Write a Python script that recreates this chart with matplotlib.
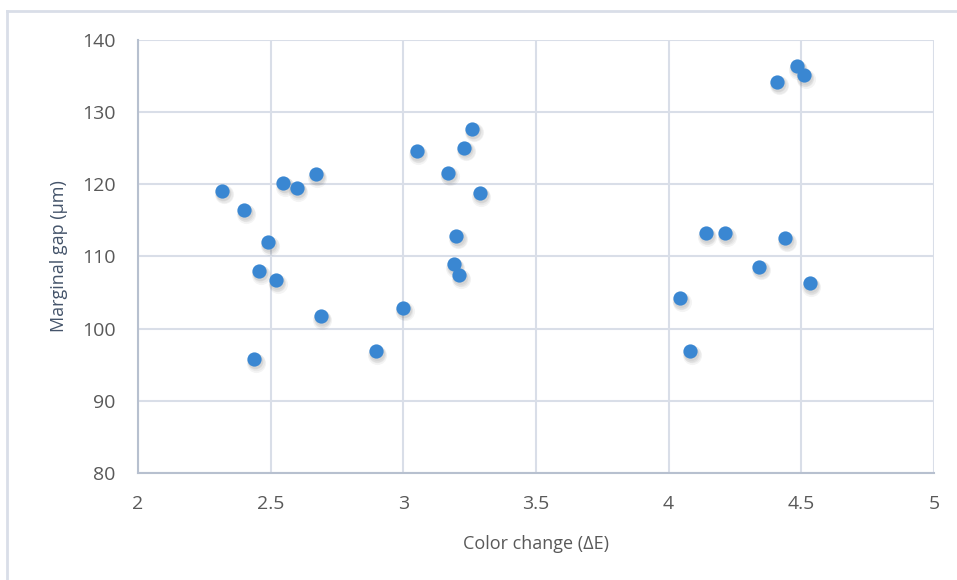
import matplotlib
matplotlib.use("Agg")
import matplotlib.pyplot as plt
import matplotlib.transforms as mtransforms
from matplotlib.lines import Line2D

color_change = [2.318, 2.40, 2.491, 2.457, 2.52, 2.438, 2.548, 2.598, 2.67, 2.689,
                2.896, 2.999, 3.05, 3.168, 3.23, 3.26, 3.288, 3.20, 3.19, 3.211,
                4.483, 4.510, 4.409, 4.140, 4.213, 4.439, 4.342, 4.532, 4.043, 4.081]
marginal_gap = [119.1, 116.4, 112.0, 108.0, 106.7, 95.8, 120.2, 119.5, 121.4, 101.7,
                96.9, 102.9, 124.6, 121.6, 125.1, 127.7, 118.8, 112.9, 108.9, 107.4,
                136.4, 135.1, 134.2, 113.2, 113.2, 112.5, 108.6, 106.3, 104.2, 96.9]
x_ticks = [2, 2.5, 3, 3.5, 4, 4.5, 5]
x_tick_labels = ["2", "2.5", "3", "3.5", "4", "4.5", "5"]
y_ticks = [80, 90, 100, 110, 120, 130, 140]

plt.rcParams['font.family'] = ['Open Sans', 'DejaVu Sans']

fig = plt.figure(figsize=(9.57, 5.8), dpi=100)
W, H = 957, 580
ax = fig.add_axes([138 / W, 1 - 473 / H, (934 - 138) / W, (473 - 40) / H])

grid_c = "#D9DEE8"
axis_c = "#B7C0CF"
tick_c = "#595959"
label_c = "#44546A"
marker_c = "#3A87D2"

# soft shadow: several faint enlarged layers offset downward
for dx, dy, s in [(1.2, -2.6, 190), (1.0, -2.2, 160), (0.8, -1.8, 135), (0.6, -1.4, 115)]:
    off = mtransforms.offset_copy(ax.transData, fig=fig, x=dx, y=dy, units='points')
    ax.scatter(color_change, marginal_gap, s=s, color="#000000",
               alpha=0.045, linewidths=0, transform=off, zorder=2)

ax.scatter(color_change, marginal_gap, s=105, color=marker_c, linewidths=0, zorder=3)

ax.set_xlim(2, 5)
ax.set_ylim(80, 140)
ax.set_xticks(x_ticks)
ax.set_xticklabels(x_tick_labels)
ax.set_yticks(y_ticks)
ax.grid(True, color=grid_c, linewidth=1.5, zorder=0)
ax.set_axisbelow(True)
for s in ["top", "right"]:
    ax.spines[s].set_visible(False)
for s in ["left", "bottom"]:
    ax.spines[s].set_color(axis_c)
    ax.spines[s].set_linewidth(1.5)
ax.tick_params(length=0, labelsize=14, labelcolor=tick_c, pad=16)

ax.set_xlabel("Color change (ΔE)", fontsize=13, color=tick_c, labelpad=16)
ax.set_ylabel("Marginal gap (μm)", fontsize=13, color=label_c, labelpad=10)

# outer chart frame (left and top)
fig.add_artist(Line2D([7 / W, 7 / W], [0, 1 - 11 / H], color=grid_c, linewidth=2))
fig.add_artist(Line2D([7 / W, 1], [1 - 11 / H, 1 - 11 / H], color=grid_c, linewidth=2))

fig.savefig("out.png", dpi=100)
